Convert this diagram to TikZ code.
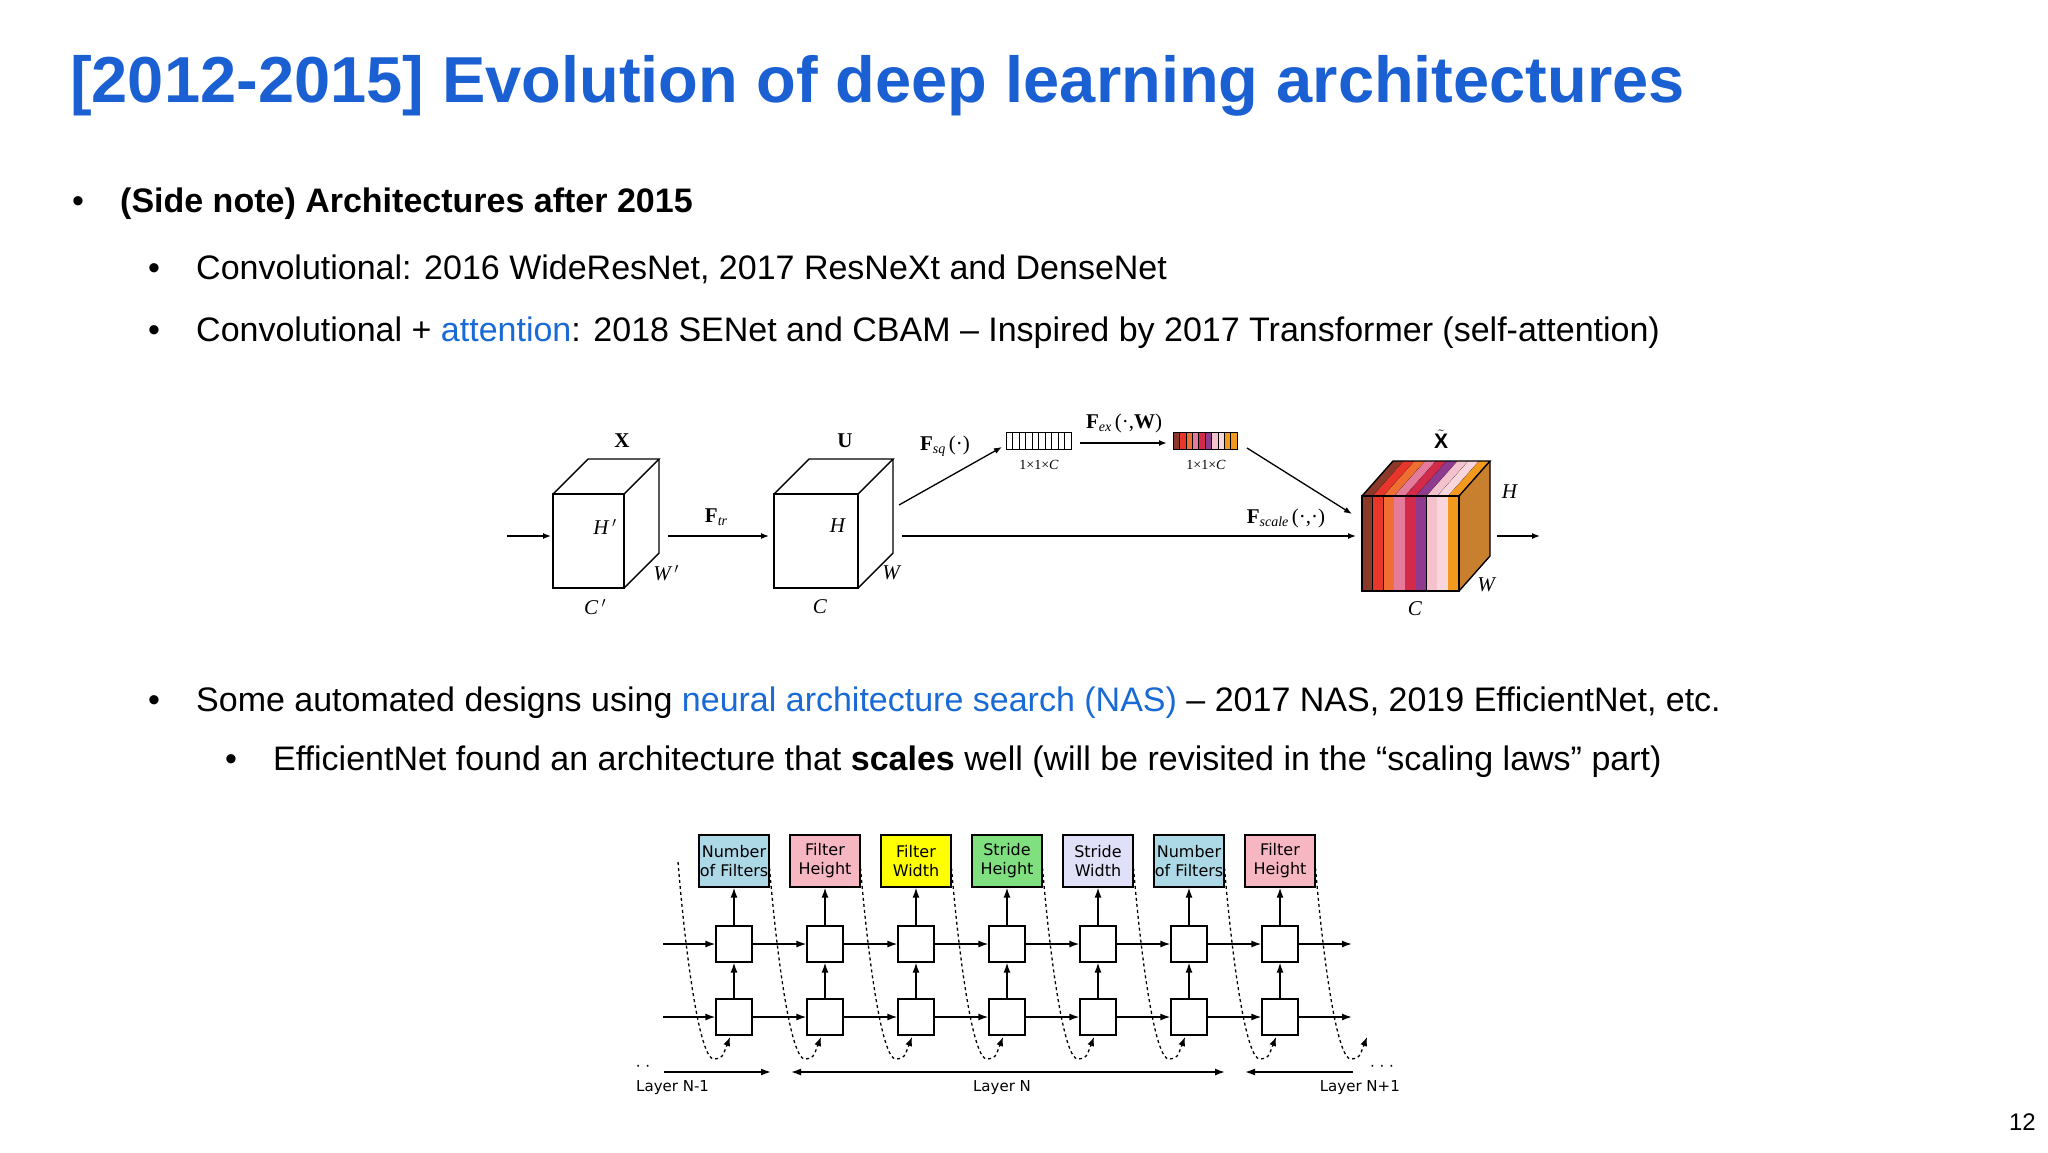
\documentclass[tikz,border=0pt]{standalone}
\usepackage{fontspec}
\setmainfont{Liberation Sans}
\newfontfamily\serifx{Liberation Serif}
\newfontfamily\dvs{DejaVu Sans}
\usetikzlibrary{arrows.meta}
\definecolor{ttl}{RGB}{26,96,210}
\definecolor{lnk}{RGB}{26,106,214}
\definecolor{cA}{RGB}{139,58,42}
\definecolor{cB}{RGB}{232,54,42}
\definecolor{cC}{RGB}{240,110,50}
\definecolor{cD}{RGB}{229,122,154}
\definecolor{cE}{RGB}{212,42,74}
\definecolor{cF}{RGB}{142,58,142}
\definecolor{cG}{RGB}{244,194,204}
\definecolor{cH}{RGB}{249,214,220}
\definecolor{cI}{RGB}{243,154,30}
\definecolor{side}{RGB}{200,127,46}
\definecolor{nblue}{RGB}{173,216,230}
\definecolor{npink}{RGB}{246,182,194}
\definecolor{nyel}{RGB}{255,255,0}
\definecolor{ngrn}{RGB}{128,224,128}
\definecolor{nlav}{RGB}{224,224,248}
\tikzset{
  body/.style={anchor=base west,font=\fontsize{34}{40}\selectfont,inner sep=0},
  bul/.style={anchor=base,font=\fontsize{34}{40}\selectfont,inner sep=0},
  ser/.style={font=\serifx\fontsize{21}{24}\selectfont,inner sep=0},
  sers/.style={font=\serifx\fontsize{14}{16}\selectfont,inner sep=0},
  arr/.style={-{Latex[length=8pt,width=6pt]},line width=1.3pt},
  parm/.style={draw,line width=1.2pt,minimum width=70pt,minimum height=52pt,inner sep=0,align=center,font=\dvs\fontsize{16}{19}\selectfont},
  cell/.style={draw,line width=1.2pt,fill=white,minimum width=36pt,minimum height=36pt,inner sep=0},
  narr/.style={-{Latex[length=10pt,width=7pt]},line width=1.5pt},
  lab/.style={font=\dvs\fontsize{15}{18}\selectfont,inner sep=0},
}
\begin{document}
\begin{tikzpicture}[x=1pt,y=-1pt]
\useasboundingbox (0,0) rectangle (2048,1152);
\fill[white] (0,0) rectangle (2048,1152);
\node[anchor=base west,inner sep=0,text=ttl,font=\bfseries\fontsize{65}{75}\selectfont] (title) at (70,102) {[2012-2015] Evolution of deep learning architectures};
\node[bul] (b1) at (78,212) {•};
\node[body,font=\bfseries\fontsize{34}{40}\selectfont] (t1) at (120,212) {(Side note) Architectures after 2015};
\node[bul] (b2) at (154,279) {•};
\node[body] (t2) at (196,279) {Convolutional: 2016 WideResNet, 2017 ResNeXt and DenseNet};
\node[bul] (b3) at (154,341) {•};
\node[body] (t3) at (196,341) {Convolutional + \textcolor{lnk}{attention}: 2018 SENet and CBAM – Inspired by 2017 Transformer (self-attention)};
\node[bul] (b4) at (154,711) {•};
\node[body] (t4) at (196,711) {Some automated designs using \textcolor{lnk}{neural architecture search (NAS)} – 2017 NAS, 2019 EfficientNet, etc.};
\node[bul] (b5) at (231,770) {•};
\node[body] (t5) at (273,770) {EfficientNet found an architecture that \textbf{scales} well (will be revisited in the “scaling laws” part)};
\node[anchor=base east,inner sep=0,font=\fontsize{24}{28}\selectfont] (pg) at (2036,1130) {12};

\begin{scope}[line width=1.4pt]
\draw (553,494) rectangle (624,588);
\draw (553,494) -- (588,459) -- (659,459) -- (624,494);
\draw (624,588) -- (659,553) -- (659,459);
\draw (774,494) rectangle (858,588);
\draw (774,494) -- (809,459) -- (893,459) -- (858,494);
\draw (858,588) -- (893,553) -- (893,459);
\end{scope}
\fill[side] (1459,496) -- (1490,461) -- (1490,556) -- (1459,591) -- cycle;
\foreach \c [count=\i from 0] in {cA,cB,cC,cD,cE,cF,cG,cH,cI}{
  \pgfmathsetmacro\xa{1362+\i*10.78}
  \pgfmathsetmacro\xb{1362+(\i+1)*10.78}
  \fill[\c] (\xa,496) rectangle (\xb,591);
  \fill[\c] (\xa,496) -- (\xa+31,461) -- (\xb+31,461) -- (\xb,496) -- cycle;
  \draw[black,line width=0.6pt] (\xb,496) -- (\xb,591);
  \draw[black,line width=0.4pt] (\xb,496) -- (\xb+31,461);
}
\draw[line width=1.4pt] (1362,496) rectangle (1459,591);
\draw[line width=1.4pt] (1362,496) -- (1393,461) -- (1490,461) -- (1459,496);
\draw[line width=1.4pt] (1459,591) -- (1490,556) -- (1490,461);
\foreach \i in {0,...,9}{\draw[line width=0.8pt] (1006+\i*6.5,432) rectangle (1012.5+\i*6.5,449);}
\foreach \c [count=\i from 0] in {cA,cB,cC,cD,cE,cF,cG,cH,cI,cI}{
  \fill[\c] (1173+\i*6.4,432) rectangle (1179.4+\i*6.4,449);
  \draw[line width=0.5pt] (1173+\i*6.4,432) rectangle (1179.4+\i*6.4,449);}
\draw[line width=1pt] (1173,432) rectangle (1237,449);
\coordinate (in0) at (507,536);
\coordinate (xin) at (551,536);
\coordinate (xout) at (668,536);
\coordinate (uin) at (769,536);
\coordinate (uout) at (902,536);
\coordinate (xtin) at (1356,536);
\coordinate (xtout) at (1497,536);
\coordinate (oend) at (1540,536);
\coordinate (d1a) at (899,505);
\coordinate (d1b) at (1002,447);
\coordinate (exa) at (1080,443);
\coordinate (exb) at (1167,443);
\coordinate (d2a) at (1247,448);
\coordinate (d2b) at (1352,514);
\draw[arr] (in0) -- (xin);
\draw[arr] (xout) -- (uin);
\draw[arr] (uout) -- (xtin);
\draw[arr] (xtout) -- (oend);
\draw[arr] (d1a) -- (d1b);
\draw[arr,line width=1.8pt] (exa) -- (exb);
\draw[arr] (d2a) -- (d2b);
\node[ser] (lX) at (622,441) {\textbf{X}};
\node[ser] (lH1) at (605,527) {\textit{H\,$'$}};
\node[ser] (lW1) at (666,573) {\textit{W\,$'$}};
\node[ser] (lC1) at (595,607) {\textit{C\,$'$}};
\node[ser] (lFtr) at (716,517) {\textbf{F}\textit{\fontsize{14}{16}\selectfont\raisebox{-3pt}{tr}}};
\node[ser] (lU) at (845,441) {\textbf{U}};
\node[ser] (lH) at (838,526) {\textit{H}};
\node[ser] (lW) at (892,573) {\textit{W}};
\node[ser] (lC) at (820,607) {\textit{C}};
\node[ser] (lFsq) at (945,446) {\textbf{F}\textit{\fontsize{14}{16}\selectfont\raisebox{-3pt}{sq}}\,(·)};
\node[sers] (lb1) at (1039,465) {1×1×\textit{C}};
\node[ser] (lFex) at (1124,423) {\textbf{F}\textit{\fontsize{14}{16}\selectfont\raisebox{-3pt}{ex}}\,(·,\textbf{W})};
\node[sers] (lb2) at (1206,465) {1×1×\textit{C}};
\node[ser] (lFsc) at (1286,518) {\textbf{F}\textit{\fontsize{14}{16}\selectfont\raisebox{-3pt}{scale}}\,(·,·)};
\node[ser] (lXt) at (1441,439) {$\tilde{\mathbf{X}}$};
\node[ser] (lHt) at (1510,492) {\textit{H}};
\node[ser] (lWt) at (1487,585) {\textit{W}};
\node[ser] (lCt) at (1415,609) {\textit{C}};

\foreach \i/\cx/\col/\txt in {0/734/nblue/Number\\of Filters,1/825/npink/Filter\\Height,2/916/nyel/Filter\\Width,3/1007/ngrn/Stride\\Height,4/1098/nlav/Stride\\Width,5/1189/nblue/Number\\of Filters,6/1280/npink/Filter\\Height}{
  \node[parm,fill=\col] (p\i) at (\cx,861) {\txt};
  \node[cell] (u\i) at (\cx,944) {};
  \node[cell] (l\i) at (\cx,1017) {};
  \draw[narr] (l\i) -- (u\i);
  \draw[narr] (u\i) -- (p\i);
}
\foreach \cx in {734,825,916,1007,1098,1189,1280,1371}{
  \draw[line width=1.3pt,dash pattern=on 3pt off 3pt,-{Latex[length=9pt,width=7pt]}] (\cx-56,862) .. controls (\cx-48,960) and (\cx-34,1060) .. (\cx-20,1059) .. controls (\cx-12,1058) .. (\cx-4,1037);
}
\coordinate (hu0) at (663,944);
\coordinate (hl0) at (663,1017);
\coordinate (hu7) at (1352,944);
\coordinate (hl7) at (1352,1017);
\draw[narr] (hu0) -- (u0);
\draw[narr] (hl0) -- (l0);
\foreach \a/\b in {0/1,1/2,2/3,3/4,4/5,5/6}{
  \draw[narr] (u\a) -- (u\b);
  \draw[narr] (l\a) -- (l\b);
}
\draw[narr] (u6) -- (hu7);
\draw[narr] (l6) -- (hl7);
\coordinate (la0) at (664,1072);
\coordinate (la1) at (771,1072);
\coordinate (lb0) at (791,1072);
\coordinate (lb1) at (1225,1072);
\coordinate (lc0) at (1353,1072);
\coordinate (lc1) at (1245,1072);
\draw[narr] (la0) -- (la1);
\draw[narr,{Latex[length=10pt,width=7pt]}-{Latex[length=10pt,width=7pt]}] (lb0) -- (lb1);
\draw[narr] (lc0) -- (lc1);
\node[lab] (dl) at (643,1068) {· ·};
\node[lab] (dr) at (1382,1068) {· · ·};
\node[lab,anchor=base west] (ln1) at (636,1091) {Layer N-1};
\node[lab,anchor=base] (ln) at (1002,1091) {Layer N};
\node[lab,anchor=base east] (ln2) at (1400,1091) {Layer N+1};
\end{tikzpicture}
\end{document}
